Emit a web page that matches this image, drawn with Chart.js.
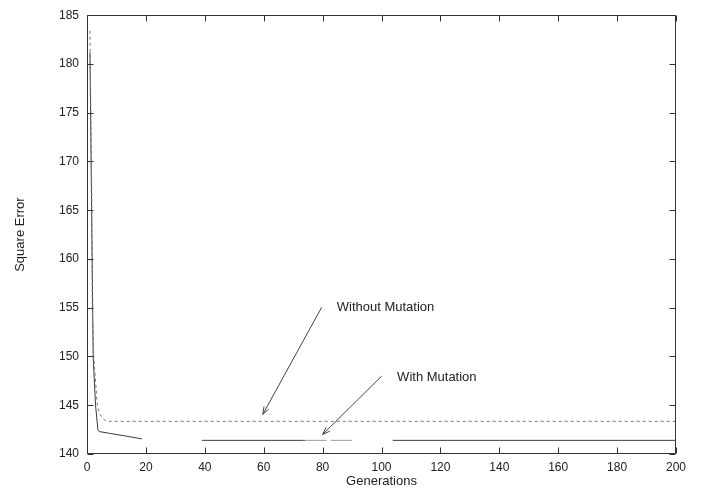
<!DOCTYPE html>
<html>
<head>
<meta charset="utf-8">
<script src="https://cdn.jsdelivr.net/npm/chart.js@4/dist/chart.umd.min.js"></script>
<style>
  html, body { margin: 0; padding: 0; background: #ffffff; }
  #wrap { width: 702px; height: 489px; position: relative; }
</style>
</head>
<body>
<div id="wrap"><canvas id="c" width="702" height="489"></canvas></div>
<script>
// ---- data ----
const xTickLabels = ['0','20','40','60','80','100','120','140','160','180','200'];
const yTickLabels = ['140','145','150','155','160','165','170','175','180','185'];

// "Without Mutation" (dashed)
const withoutGen = [1, 1.6, 1.8, 2.3, 3.5, 4.3, 5.5, 6.7, 200];
const withoutErr = [183.4, 167, 155, 150, 145, 144.1, 143.6, 143.35, 143.35];

// "With Mutation" (solid, with breaks as in the picture)
const withGen = [1, 2.1, 2.9, 3.7, 4.2, 8, 13, 18.6, 29, 39, 73.5, 74, 81.4, 82.1, 82.8, 89.9, 97, 103.8, 200];
const withErr = [181.2, 150, 145, 142.5, 142.3, 142.1, 141.85, 141.55, null, 141.4, 141.4, 141.4, 141.4, null, 141.4, 141.4, null, 141.4, 141.4];

// annotations (data units)
const noteText  = ['Without Mutation', 'With Mutation'];
const noteTextX = [84.8, 105.3];
const noteTextY = [155.05, 147.9];
const noteFromX = [79.7, 100.1];
const noteFromY = [155.05, 148.0];
const noteToX   = [59.7, 80.0];
const noteToY   = [144.07, 142.0];

const FONT = "'Liberation Sans', Arial, Helvetica, sans-serif";

function toPoints(xs, ys) {
  return xs.map((x, i) => ({ x: x, y: ys[i] }));
}

const framePlugin = {
  id: 'frame',
  afterDraw(chart) {
    const ctx = chart.ctx;
    const a = chart.chartArea;
    const xs = chart.scales.x, ys = chart.scales.y;
    ctx.save();
    ctx.strokeStyle = '#333333';
    ctx.lineWidth = 1;
    const L = Math.round(a.left) + 0.5, R = Math.round(a.right) - 0.5;
    const T = Math.round(a.top) + 0.5, B = Math.round(a.bottom) - 0.5;
    ctx.beginPath();
    ctx.rect(L, T, R - L, B - T);
    ctx.stroke();
    const tl = 6;
    ctx.beginPath();
    xs.ticks.forEach(t => {
      const px = Math.round(xs.getPixelForValue(t.value)) + 0.5;
      ctx.moveTo(px, B); ctx.lineTo(px, B - tl);
      ctx.moveTo(px, T); ctx.lineTo(px, T + tl);
    });
    ys.ticks.forEach(t => {
      const py = Math.round(ys.getPixelForValue(t.value)) + 0.5;
      ctx.moveTo(L, py); ctx.lineTo(L + tl, py);
      ctx.moveTo(R, py); ctx.lineTo(R - tl, py);
    });
    ctx.stroke();

    // annotations
    ctx.strokeStyle = '#444444';
    ctx.fillStyle = '#222222';
    ctx.font = '13px ' + FONT;
    ctx.textAlign = 'left';
    ctx.textBaseline = 'middle';
    for (let i = 0; i < noteText.length; i++) {
      const x0 = xs.getPixelForValue(noteFromX[i]), y0 = ys.getPixelForValue(noteFromY[i]);
      const x1 = xs.getPixelForValue(noteToX[i]), y1 = ys.getPixelForValue(noteToY[i]);
      ctx.beginPath();
      ctx.moveTo(x0, y0); ctx.lineTo(x1, y1);
      const ang = Math.atan2(y1 - y0, x1 - x0);
      const hl = 8, ha = 0.35;
      ctx.moveTo(x1 - hl * Math.cos(ang - ha), y1 - hl * Math.sin(ang - ha));
      ctx.lineTo(x1, y1);
      ctx.lineTo(x1 - hl * Math.cos(ang + ha), y1 - hl * Math.sin(ang + ha));
      ctx.stroke();
      ctx.fillText(noteText[i], xs.getPixelForValue(noteTextX[i]), ys.getPixelForValue(noteTextY[i]));
    }
    ctx.restore();
  }
};

new Chart(document.getElementById('c'), {
  type: 'line',
  data: {
    datasets: [
      {
        label: 'Without Mutation',
        data: toPoints(withoutGen, withoutErr),
        borderColor: '#7a7a7a',
        borderWidth: 1,
        borderDash: [3, 3],
        pointRadius: 0,
        tension: 0,
        fill: false
      },
      {
        label: 'With Mutation',
        data: toPoints(withGen, withErr),
        borderColor: '#3a3a3a',
        borderWidth: 1,
        pointRadius: 0,
        tension: 0,
        spanGaps: false,
        fill: false,
        segment: {
          borderColor: c => (c.p0.parsed.x >= 73.9 && c.p1.parsed.x <= 90) ? '#9a9a9a' : undefined
        }
      }
    ]
  },
  options: {
    responsive: false,
    animation: false,
    devicePixelRatio: 1,
    layout: { padding: { top: 11, right: 26, left: 0, bottom: 0 } },
    plugins: { legend: { display: false }, tooltip: { enabled: false } },
    scales: {
      x: {
        type: 'linear',
        min: 0, max: 200,
        afterFit: s => { s.height = 35; },
        afterBuildTicks: s => { s.ticks = xTickLabels.map(v => ({ value: Number(v) })); },
        grid: { display: false, drawTicks: false },
        border: { display: false },
        ticks: {
          padding: 6,
          color: '#222222',
          font: { family: FONT, size: 12 },
          maxRotation: 0,
          callback: (v) => xTickLabels.includes(String(v)) ? String(v) : ''
        },
        title: {
          display: true, text: 'Generations', color: '#222222',
          font: { family: FONT, size: 13 }, padding: { top: 0, bottom: 0 }
        }
      },
      y: {
        type: 'linear',
        min: 140, max: 185,
        afterFit: s => { s.width = 87; },
        afterBuildTicks: s => { s.ticks = yTickLabels.map(v => ({ value: Number(v) })); },
        grid: { display: false, drawTicks: false },
        border: { display: false },
        ticks: {
          padding: 8,
          color: '#222222',
          font: { family: FONT, size: 12 },
          callback: (v) => yTickLabels.includes(String(v)) ? String(v) : ''
        },
        title: {
          display: true, text: 'Square Error', color: '#222222',
          font: { family: FONT, size: 13 }, padding: { top: 13, bottom: 0 }
        }
      }
    }
  },
  plugins: [framePlugin]
});
</script>
</body>
</html>
